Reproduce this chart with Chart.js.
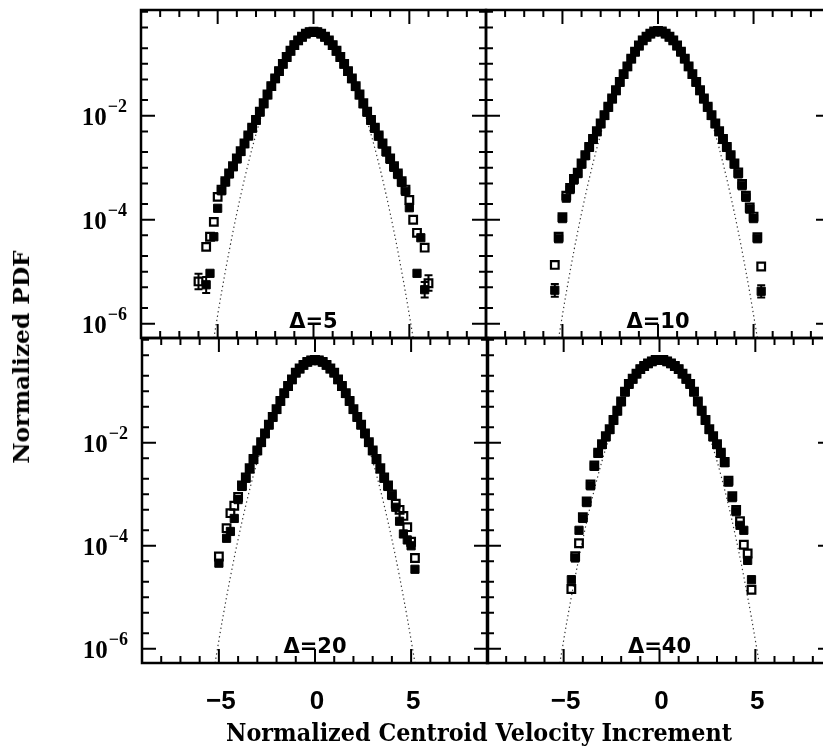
<!DOCTYPE html>
<html>
<head>
<meta charset="utf-8">
<script src="https://cdn.jsdelivr.net/npm/chart.js@4.4.1/dist/chart.umd.min.js"></script>
<style>
  html, body { margin: 0; padding: 0; background: #fff; overflow: hidden; }
  #wrap { position: relative; width: 823px; height: 748px; overflow: hidden; background: #fff; }
  #wrap canvas { position: absolute; left: 0; top: 0; }
  .title { position: absolute; white-space: nowrap; color: #000; font-family: "DejaVu Serif"; font-weight: bold; line-height: 1; }
</style>
</head>
<body>
<div id="wrap">
  <canvas id="c1" width="840" height="748"></canvas>
  <canvas id="c2" width="840" height="748"></canvas>
  <canvas id="c3" width="840" height="748"></canvas>
  <canvas id="c4" width="840" height="748"></canvas>
  <div id="ytitle" class="title" style="font-size:22px">Normalized PDF</div>
  <div id="xtitle" class="title" style="font-size:24px">Normalized Centroid Velocity Increment</div>
</div>
<script>
// bin centres (normalized increment), shared by every panel
const bins = [
  -6.2, -6.0, -5.8, -5.6, -5.4, -5.2, -5.0,
  -4.8, -4.6, -4.4, -4.2, -4.0, -3.8, -3.6,
  -3.4, -3.2, -3.0, -2.8, -2.6, -2.4, -2.2,
  -2.0, -1.8, -1.6, -1.4, -1.2, -1.0, -0.8,
  -0.6, -0.4, -0.2, 0, 0.2, 0.4, 0.6,
  0.8, 1.0, 1.2, 1.4, 1.6, 1.8, 2.0,
  2.2, 2.4, 2.6, 2.8, 3.0, 3.2, 3.4,
  3.6, 3.8, 4.0, 4.2, 4.4, 4.6, 4.8,
  5.0, 5.2, 5.4, 5.6, 5.8, 6.0, 6.2
];

// Delta = 5
const d5Filled = [
  null, null, null, 5.6e-6, 9.3e-6, 4.7e-5, 1.66e-4,
  3.6e-4, 5.3e-4, 7.6e-4, 1.05e-3, 1.48e-3, 2.05e-3, 2.90e-3,
  4.10e-3, 5.80e-3, 8.20e-3, 0.0118, 0.0171, 0.0253, 0.0368,
  0.0520, 0.0720, 0.0995, 0.134, 0.177, 0.228, 0.281,
  0.330, 0.379, 0.406, 0.416, 0.405, 0.378, 0.329,
  0.280, 0.227, 0.176, 0.134, 0.0990, 0.0715, 0.0518,
  0.0365, 0.0252, 0.0170, 0.0117, 8.15e-3, 5.75e-3, 4.05e-3,
  2.85e-3, 2.00e-3, 1.45e-3, 1.02e-3, 7.4e-4, 5.2e-4, 3.5e-4,
  1.7e-4, null, 9.3e-6, 4.5e-5, 4.5e-6, null, null
];
const d5Open = [
  null, 6.5e-6, null, 3.0e-5, 4.7e-5, 9.1e-5, 2.75e-4,
  3.8e-4, 5.5e-4, 7.8e-4, 1.07e-3, 1.51e-3, 2.09e-3, 2.95e-3,
  4.17e-3, 5.89e-3, 8.32e-3, 0.0120, 0.0174, 0.0257, 0.0372,
  0.0525, 0.0724, 0.100, 0.135, 0.178, 0.229, 0.282,
  0.331, 0.380, 0.407, 0.417, 0.407, 0.380, 0.331,
  0.282, 0.229, 0.178, 0.135, 0.100, 0.0724, 0.0525,
  0.0372, 0.0257, 0.0174, 0.0120, 8.32e-3, 5.89e-3, 4.17e-3,
  2.95e-3, 2.09e-3, 1.51e-3, 1.07e-3, 7.8e-4, 5.5e-4, 3.8e-4,
  2.4e-4, 1.0e-4, 5.6e-5, null, 2.9e-5, 6.0e-6, null
];
const d5ErrX = [-6.0, -5.6, 5.8, 6.0];
const d5ErrLo = [4.6e-6, 3.9e-6, 3.2e-6, 4.3e-6];
const d5ErrHi = [9.1e-6, 7.9e-6, 6.3e-6, 8.5e-6];

// Delta = 10
const d10Filled = [
  null, null, null, null, 4.4e-6, 4.3e-5, 1.05e-4,
  2.6e-4, 3.8e-4, 5.8e-4, 7.7e-4, 1.17e-3, 1.70e-3, 2.46e-3,
  3.50e-3, 4.95e-3, 7.00e-3, 0.0101, 0.0146, 0.0212, 0.0306,
  0.0443, 0.0626, 0.0885, 0.125, 0.169, 0.223, 0.281,
  0.330, 0.379, 0.416, 0.426, 0.416, 0.379, 0.330,
  0.281, 0.223, 0.169, 0.125, 0.0885, 0.0626, 0.0443,
  0.0306, 0.0212, 0.0146, 0.0101, 7.00e-3, 4.95e-3, 3.50e-3,
  2.46e-3, 1.70e-3, 1.17e-3, 7.6e-4, 4.5e-4, 2.7e-4, 1.6e-4,
  1.05e-4, 4.3e-5, 4.2e-6, null, null, null, null
];
const d10Open = [
  null, null, null, null, 1.35e-5, 4.7e-5, 1.12e-4,
  2.9e-4, 4.1e-4, 6.1e-4, 8.0e-4, 1.21e-3, 1.75e-3, 2.52e-3,
  3.57e-3, 5.03e-3, 7.12e-3, 0.0103, 0.0149, 0.0215, 0.0310,
  0.0449, 0.0633, 0.0895, 0.126, 0.171, 0.225, 0.283,
  0.332, 0.381, 0.418, 0.428, 0.418, 0.381, 0.332,
  0.283, 0.225, 0.171, 0.126, 0.0895, 0.0633, 0.0449,
  0.0310, 0.0215, 0.0149, 0.0103, 7.12e-3, 5.03e-3, 3.57e-3,
  2.52e-3, 1.75e-3, 1.21e-3, 8.1e-4, 4.9e-4, 2.9e-4, 1.72e-4,
  1.15e-4, 4.6e-5, 1.26e-5, null, null, null, null
];
const d10ErrX = [-5.4, 5.4];
const d10ErrLo = [3.3e-6, 3.2e-6];
const d10ErrHi = [5.8e-6, 5.5e-6];

// Delta = 20
const d20Filled = [
  null, null, null, null, null, null, 4.6e-5,
  null, 1.4e-4, 1.9e-4, 3.4e-4, 7.9e-4, 1.42e-3, 2.05e-3,
  3.10e-3, 4.72e-3, 7.00e-3, 0.0101, 0.0150, 0.0222, 0.0313,
  0.0443, 0.0640, 0.0905, 0.125, 0.169, 0.228, 0.274,
  0.323, 0.371, 0.397, 0.406, 0.397, 0.371, 0.323,
  0.274, 0.228, 0.169, 0.125, 0.0905, 0.0640, 0.0443,
  0.0313, 0.0222, 0.0150, 0.0101, 7.00e-3, 4.72e-3, 3.10e-3,
  2.05e-3, 1.42e-3, 9.5e-4, 5.6e-4, 3.0e-4, 1.7e-4, 1.3e-4,
  1.0e-4, 3.5e-5, null, null, null, null, null
];
const d20Open = [
  null, null, null, null, null, null, 6.2e-5,
  null, 2.2e-4, 4.3e-4, 6.0e-4, 8.9e-4, 1.48e-3, 2.12e-3,
  3.20e-3, 4.84e-3, 7.15e-3, 0.0103, 0.0152, 0.0226, 0.0319,
  0.0451, 0.0652, 0.0920, 0.127, 0.171, 0.231, 0.277,
  0.326, 0.374, 0.400, 0.409, 0.400, 0.374, 0.326,
  0.277, 0.231, 0.171, 0.127, 0.0920, 0.0652, 0.0451,
  0.0319, 0.0226, 0.0152, 0.0103, 7.15e-3, 4.84e-3, 3.20e-3,
  2.12e-3, 1.48e-3, 1.0e-3, 6.6e-4, 5.0e-4, 3.8e-4, 2.3e-4,
  1.2e-4, 5.8e-5, null, null, null, null, null
];

// Delta = 40
const d40Filled = [
  null, null, null, null, null, null, null,
  null, 2.2e-5, 5.8e-5, 2.0e-4, 3.4e-4, 6.9e-4, 1.46e-3,
  3.48e-3, 6.22e-3, 9.20e-3, 0.0130, 0.0180, 0.0272, 0.0413,
  0.0625, 0.0970, 0.137, 0.173, 0.218, 0.268, 0.308,
  0.346, 0.379, 0.406, 0.407, 0.406, 0.379, 0.346,
  0.308, 0.268, 0.218, 0.173, 0.137, 0.0970, 0.0625,
  0.0413, 0.0272, 0.0180, 0.0130, 9.20e-3, 6.22e-3, 4.10e-3,
  1.72e-3, 8.6e-4, 4.6e-4, 2.5e-4, 2.0e-4, 5.2e-5, 2.2e-5,
  null, null, null, null, null, null, null
];
const d40Open = [
  null, null, null, null, null, null, null,
  null, 1.45e-5, 6.3e-5, 1.12e-4, 3.6e-4, 7.3e-4, 1.56e-3,
  3.62e-3, 6.40e-3, 9.46e-3, 0.0134, 0.0184, 0.0278, 0.0421,
  0.0637, 0.0985, 0.139, 0.175, 0.220, 0.270, 0.310,
  0.348, 0.381, 0.408, 0.409, 0.408, 0.381, 0.348,
  0.310, 0.270, 0.220, 0.175, 0.139, 0.0985, 0.0637,
  0.0421, 0.0278, 0.0184, 0.0134, 9.46e-3, 6.40e-3, 4.24e-3,
  1.84e-3, 9.2e-4, 5.0e-4, 3.0e-4, 1.05e-4, 7.1e-5, 1.4e-5,
  null, null, null, null, null, null, null
];

// dotted reference curve
const gaussX = [-5.2, -4.8, -4.4, -4.0, -3.6, -3.2, -2.8, -2.4, -2.0, -1.6, -1.2, -0.8, -0.4, 0,
                0.4, 0.8, 1.2, 1.6, 2.0, 2.4, 2.8, 3.2, 3.6, 4.0, 4.4, 4.8, 5.2];
const gaussY = [5.3e-7, 3.96e-6, 2.5e-5, 1.34e-4, 6.1e-4, 2.38e-3, 7.9e-3, 0.0224, 0.054, 0.111, 0.194, 0.290, 0.368, 0.399,
                0.368, 0.290, 0.194, 0.111, 0.054, 0.0224, 7.9e-3, 2.38e-3, 6.1e-4, 1.34e-4, 2.5e-5, 3.96e-6, 5.3e-7];

// axes
const xTickValues = [-9, -8, -7, -6, -5, -4, -3, -2, -1, 0, 1, 2, 3, 4, 5, 6, 7, 8, 9];
const xLabelValues = [-5, 0, 5];
const yTickValues = [1, 0.5, 0.2, 0.1, 0.05, 0.02, 0.01, 5e-3, 2e-3, 1e-3, 5e-4, 2e-4, 1e-4,
                     5e-5, 2e-5, 1e-5, 5e-6, 2e-6, 1e-6];
const yLabelValues = [1e-2, 1e-4, 1e-6];
const yLabelExps = ['\u22122', '\u22124', '\u22126'];
const yMin = 5.3e-7;
const yMax = 1.084;

function pairs(xs, ys) {
  return xs.map((x, i) => ({ x: x, y: ys[i] })).filter(p => p.y != null);
}

const framePlugin = {
  id: 'frame',
  afterDatasetsDraw(chart) {
    const p = chart.options.plugins.frame;
    const ctx = chart.ctx;
    const a = chart.chartArea;
    const xs = chart.scales.x, ys = chart.scales.y;
    ctx.save();
    ctx.strokeStyle = '#000';
    ctx.fillStyle = '#000';
    ctx.lineCap = 'butt';

    // error bars
    if (p.errX) {
      ctx.lineWidth = 2;
      p.errX.forEach((v, i) => {
        const px = xs.getPixelForValue(v);
        const lo = ys.getPixelForValue(p.errLo[i]);
        const hi = ys.getPixelForValue(p.errHi[i]);
        ctx.beginPath();
        ctx.moveTo(px, lo); ctx.lineTo(px, hi);
        ctx.moveTo(px - 4, lo); ctx.lineTo(px + 4, lo);
        ctx.moveTo(px - 4, hi); ctx.lineTo(px + 4, hi);
        ctx.stroke();
      });
    }

    // inward ticks on all four sides
    ctx.lineWidth = 2;
    xs.ticks.forEach(t => {
      const px = xs.getPixelForValue(t.value);
      const len = xLabelValues.includes(t.value) ? 14 : 7;
      ctx.beginPath();
      ctx.moveTo(px, a.top); ctx.lineTo(px, a.top + len);
      ctx.moveTo(px, a.bottom); ctx.lineTo(px, a.bottom - len);
      ctx.stroke();
    });
    ys.ticks.forEach(t => {
      const py = ys.getPixelForValue(t.value);
      if (py < a.top || py > a.bottom) return;
      const len = yLabelValues.includes(t.value) ? 14 : 7;
      ctx.beginPath();
      ctx.moveTo(a.left, py); ctx.lineTo(a.left + len, py);
      ctx.moveTo(a.right, py); ctx.lineTo(a.right - len, py);
      ctx.stroke();
    });
    ctx.lineWidth = 2.5;
    ctx.strokeRect(a.left, a.top, a.right - a.left, a.bottom - a.top);

    // panel name
    ctx.font = 'bold 21px "DejaVu Sans"';
    ctx.textAlign = 'center';
    ctx.textBaseline = 'alphabetic';
    ctx.fillText(p.name, xs.getPixelForValue(0), a.bottom - 10);

    // y labels 10^n
    if (p.yLabels) {
      yLabelValues.forEach((v, i) => {
        const py = ys.getPixelForValue(v);
        ctx.textAlign = 'right';
        ctx.font = 'bold 18px "Liberation Serif"';
        const right = a.left - 14;
        ctx.fillText(yLabelExps[i], right, py - 3.5);
        const w = ctx.measureText(yLabelExps[i]).width;
        ctx.font = 'bold 25px "Liberation Serif"';
        ctx.fillText('10', right - w - 1, py + 9.5);
      });
    }

    // x labels
    if (p.xLabels) {
      ctx.font = 'bold 26px "Liberation Sans"';
      ctx.textAlign = 'center';
      xLabelValues.forEach(v => {
        const px = xs.getPixelForValue(v);
        const txt = v < 0 ? '\u2212' + Math.abs(v) : String(v);
        ctx.fillText(txt, px + 2, a.bottom + 46);
      });
    }
    ctx.restore();
  }
};

const panels = [
  { id: 'c1', name: '\u0394=5', filled: d5Filled, open: d5Open, errX: d5ErrX, errLo: d5ErrLo, errHi: d5ErrHi,
    pad: { left: 141, top: 10, right: 354, bottom: 410 }, yLabels: true, xLabels: false },
  { id: 'c2', name: '\u0394=10', filled: d10Filled, open: d10Open, errX: d10ErrX, errLo: d10ErrLo, errHi: d10ErrHi,
    pad: { left: 486, top: 10, right: 10, bottom: 410 }, yLabels: false, xLabels: false },
  { id: 'c3', name: '\u0394=20', filled: d20Filled, open: d20Open,
    pad: { left: 142, top: 338, right: 352, bottom: 85 }, yLabels: true, xLabels: true },
  { id: 'c4', name: '\u0394=40', filled: d40Filled, open: d40Open,
    pad: { left: 487, top: 338, right: 8, bottom: 85 }, yLabels: false, xLabels: true }
];

panels.forEach(p => {
  new Chart(document.getElementById(p.id), {
    type: 'scatter',
    data: {
      datasets: [
        { data: pairs(gaussX, gaussY), showLine: true, borderColor: '#333', borderWidth: 1.2,
          borderDash: [1.3, 3], pointRadius: 0, cubicInterpolationMode: 'monotone', order: 3 },
        { data: pairs(bins, p.filled), pointStyle: 'rect', pointRadius: 5.8,
          backgroundColor: '#000', borderColor: '#000', borderWidth: 1, order: 2 },
        { data: pairs(bins, p.open), pointStyle: 'rect', pointRadius: 5.4,
          backgroundColor: 'rgba(255,255,255,0)', borderColor: '#000', borderWidth: 2.2, order: 1 }
      ]
    },
    options: {
      responsive: false,
      animation: false,
      devicePixelRatio: 1,
      events: [],
      layout: { padding: p.pad },
      plugins: {
        legend: { display: false },
        tooltip: { enabled: false },
        frame: { name: p.name, errX: p.errX, errLo: p.errLo, errHi: p.errHi, yLabels: p.yLabels, xLabels: p.xLabels }
      },
      scales: {
        x: { type: 'linear', min: -9, max: 9, display: false,
             afterBuildTicks: s => { s.ticks = xTickValues.map(v => ({ value: v })); } },
        y: { type: 'logarithmic', min: yMin, max: yMax, display: false,
             afterBuildTicks: s => { s.ticks = yTickValues.map(v => ({ value: v })); } }
      }
    },
    plugins: [framePlugin]
  });
});

// axis titles, stretched to the reference widths
function place(el, cx, cy, w, rot) {
  const k = w / el.offsetWidth;
  el.style.left = cx + 'px';
  el.style.top = cy + 'px';
  el.style.transform = 'translate(-50%,-50%) rotate(' + rot + 'deg) scaleX(' + k + ')';
}
place(document.getElementById('ytitle'), 21, 357, 213, -90);
place(document.getElementById('xtitle'), 479, 733, 506, 0);
</script>
</body>
</html>
